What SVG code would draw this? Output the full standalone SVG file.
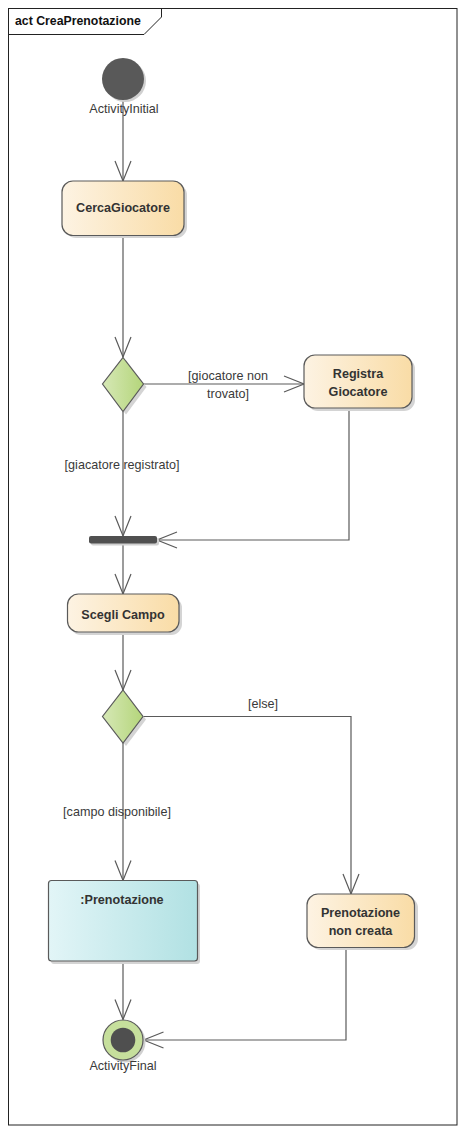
<svg xmlns="http://www.w3.org/2000/svg" width="465" height="1134" viewBox="0 0 465 1134">
<style>
.lbl{font-family:"Liberation Sans",Arial,sans-serif;font-size:12.6px;fill:#3a3a3a;text-anchor:middle}
.nt{font-family:"Liberation Sans",Arial,sans-serif;font-size:12.6px;font-weight:bold;fill:#333;text-anchor:middle}
.act{fill:url(#gAct);stroke:#5a5a5a;stroke-width:1.2}
.sh{fill:#d4d4d4}
.dec{fill:url(#gDec);stroke:#5a5a5a;stroke-width:1.2}
.edge{fill:none;stroke:#5a5a5a;stroke-width:1.2;marker-end:url(#arr)}
</style>
<defs>
<linearGradient id="gAct" x1="0" y1="0" x2="1" y2="0"><stop offset="0" stop-color="#fdf3e3"/><stop offset="1" stop-color="#f9dca6"/></linearGradient>
<linearGradient id="gDec" x1="0" y1="0" x2="1" y2="0"><stop offset="0" stop-color="#d6e8b6"/><stop offset="1" stop-color="#b4d57a"/></linearGradient>
<linearGradient id="gObj" x1="0" y1="0" x2="1" y2="0"><stop offset="0" stop-color="#e2f5f7"/><stop offset="1" stop-color="#b1e1e3"/></linearGradient>
<marker id="arr" markerUnits="userSpaceOnUse" markerWidth="24" markerHeight="20" viewBox="-22 -10 24 20" refX="0" refY="0" orient="auto">
<path d="M-20,-8 L0,0 L-20,8" fill="none" stroke="#5a5a5a" stroke-width="1.2"/>
</marker>
</defs>
<rect x="0" y="0" width="465" height="1134" fill="#ffffff"/>
<g id="frame">
<rect x="8.5" y="8.5" width="448.5" height="1116.5" fill="none" stroke="#222" stroke-width="1"/>
<path d="M8.5,34.5 L144,34.5 L161.5,17 L161.5,8.5" fill="none" stroke="#222" stroke-width="1"/>
<text x="15" y="25" style="font-family:'Liberation Sans',Arial,sans-serif;font-size:12.3px;font-weight:bold;fill:#111">act CreaPrenotazione</text>
</g>
<g id="connectors">
<path class="edge" d="M123,100 L123,181"/>
<path class="edge" d="M123,236 L123,357"/>
<path class="edge" d="M143.5,384 L304,384"/>
<path class="edge" d="M123,411.5 L123,536"/>
<path class="edge" d="M349,408 L349,540 L157,540"/>
<path class="edge" d="M123,543 L123,594"/>
<path class="edge" d="M123,632 L123,690"/>
<path class="edge" d="M143,716.5 L351,716.5 L351,894"/>
<path class="edge" d="M123,743 L123,880.5"/>
<path class="edge" d="M123,961 L123,1019.5"/>
<path class="edge" d="M346,947.5 L346,1040 L143.5,1040"/>
<text class="lbl" x="228" y="380">[giocatore non</text>
<text class="lbl" x="228" y="398">trovato]</text>
<text class="lbl" x="122" y="469">[giacatore registrato]</text>
<text class="lbl" x="263" y="708">[else]</text>
<text class="lbl" x="117" y="816">[campo disponibile]</text>
</g>
<g id="ActivityInitial">
<circle cx="125" cy="81" r="21" fill="#d0d0d0"/>
<circle cx="123" cy="79" r="21" fill="#595959"/>
<text class="lbl" x="124" y="113">ActivityInitial</text>
</g>
<g id="CercaGiocatore">
<rect class="sh" x="65" y="184" width="122" height="54" rx="11"/>
<rect class="act" x="62" y="181" width="122" height="54.5" rx="11"/>
<text class="nt" x="123" y="212">CercaGiocatore</text>
</g>
<g id="Decision1">
<path class="sh" d="M126,360 L146.5,387 L126,414.5 L105.5,387 Z"/>
<path class="dec" d="M123,357.5 L143.5,384 L123,411.5 L102.5,384 Z"/>
</g>
<g id="RegistraGiocatore">
<rect class="sh" x="307" y="358" width="108" height="53" rx="11"/>
<rect class="act" x="304" y="355" width="108" height="53" rx="11"/>
<text class="nt" x="358" y="378">Registra</text>
<text class="nt" x="358" y="396">Giocatore</text>
</g>
<g id="Join">
<rect x="91" y="538" width="68" height="7.5" rx="2" fill="#d0d0d0"/>
<rect x="89" y="536" width="68" height="7.5" rx="2" fill="#505050"/>
</g>
<g id="ScegliCampo">
<rect class="sh" x="70" y="597" width="112" height="38" rx="11"/>
<rect class="act" x="67.5" y="594" width="111.5" height="38" rx="11"/>
<text class="nt" x="123" y="619">Scegli Campo</text>
</g>
<g id="Decision2">
<path class="sh" d="M126,693 L146,719.5 L126,746 L105,719.5 Z"/>
<path class="dec" d="M123,690 L143,716.5 L123,743 L102.5,716.5 Z"/>
</g>
<g id="Prenotazione">
<rect class="sh" x="51" y="883.5" width="149" height="80.5" rx="3"/>
<rect x="48.5" y="880.5" width="149" height="80.5" rx="3" fill="url(#gObj)" stroke="#5a5a5a" stroke-width="1.2"/>
<text class="nt" x="122" y="904">:Prenotazione</text>
</g>
<g id="PrenotazioneNonCreata">
<rect class="sh" x="310" y="897" width="108" height="53" rx="11"/>
<rect class="act" x="307" y="894" width="107.5" height="53.5" rx="11"/>
<text class="nt" x="360.5" y="917">Prenotazione</text>
<text class="nt" x="360.5" y="935">non creata</text>
</g>
<g id="ActivityFinal">
<circle cx="125" cy="1042" r="20.5" fill="#d0d0d0"/>
<circle cx="123" cy="1040" r="20" fill="#c6df9c" stroke="#5a5a5a" stroke-width="1.2"/>
<circle cx="123" cy="1040" r="12.3" fill="#4f4f4f"/>
<text class="lbl" x="123" y="1070">ActivityFinal</text>
</g>
</svg>
